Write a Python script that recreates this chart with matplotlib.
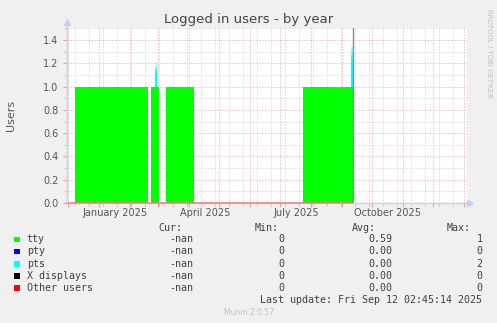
import matplotlib
matplotlib.use("Agg")
import matplotlib.pyplot as plt
import matplotlib.dates as mdates
from matplotlib.ticker import FixedLocator, MultipleLocator, FormatStrFormatter, NullFormatter
from matplotlib.patches import Rectangle
import pandas as pd

x_start = "2024-11-30"
x_end = "2026-01-04"
y_max = 1.5

# tty logins: value holds from each date to the next one
tty_dates = ["2024-11-30 00:00", "2024-12-08 00:00", "2025-02-19 00:00", "2025-02-22 00:00",
             "2025-03-02 00:00", "2025-03-09 00:00", "2025-04-06 00:00", "2025-07-24 00:00",
             "2025-09-12 02:45"]
tty_values = [0, 1, 0, 1, 0, 1, 0, 1, 1]

# pts spikes on top of tty
pts_dates = ["2025-02-27", "2025-09-11"]
pts_values = [0.2, 2]

last_update = "2025-09-12 02:45"

# quarter labels (rrdtool centres them in the month)
label_months = ["2025-01-01", "2025-04-01", "2025-07-01", "2025-10-01"]
label_texts = ["January 2025", "April 2025", "July 2025", "October 2025"]

# legend table
series_names = ["tty", "pty", "pts", "X displays", "Other users"]
series_colors = ["#00FF00", "#0000FF", "#00FFFF", "#000000", "#FF0000"]
cur_vals = ["-nan", "-nan", "-nan", "-nan", "-nan"]
min_vals = ["0", "0", "0", "0", "0"]
avg_vals = ["0.59", "0.00", "0.00", "0.00", "0.00"]
max_vals = ["1", "0", "2", "0", "0"]

W, H = 497, 323
fig = plt.figure(figsize=(W / 100, H / 100), dpi=100, facecolor="#F0F0F0")
ax = fig.add_axes([67 / W, 120 / H, 400 / W, 174.5 / H])
ax.set_facecolor("white")

t = pd.to_datetime(tty_dates, format="%Y-%m-%d %H:%M")
ax.fill_between(t, 0, tty_values, step="post", color="#00FF00", lw=0, zorder=3)

# pts spikes, solid near the tty top and fading upward like the rrdtool rendering
for d, v in zip(pd.to_datetime(pts_dates), pts_values):
    fade = min(v, 0.35)
    n = 10
    for i in range(n):
        y0 = 1 + fade * i / n
        y1 = 1 + fade * (i + 1) / n
        a = 1.0 if i < n * 0.55 else max(0.15, 1 - (i - n * 0.55) / (n * 0.5))
        ax.plot([d, d], [y0, y1], color="#00FFFF", lw=1.6, alpha=a, zorder=4,
                solid_capstyle="butt")

lu = pd.to_datetime(last_update)
ax.axvline(lu, color="#8a8a8a", lw=1.0, zorder=5)
# zero line where data exists
ax.plot([pd.to_datetime(x_start), lu], [0, 0], color="#F08080", lw=1.2, zorder=6,
        clip_on=False)

ax.set_xlim(pd.to_datetime(x_start), pd.to_datetime(x_end))
ax.set_ylim(0, y_max)

# grid
ax.xaxis.set_major_locator(mdates.MonthLocator())
ax.xaxis.set_major_formatter(NullFormatter())
minor_x = mdates.date2num(pd.date_range("2024-12-08", x_end, freq="14D"))
ax.xaxis.set_minor_locator(FixedLocator(minor_x))
ax.yaxis.set_major_locator(MultipleLocator(0.2))
ax.yaxis.set_minor_locator(MultipleLocator(0.1))
ax.yaxis.set_major_formatter(FormatStrFormatter("%.1f"))

ax.grid(which="minor", color="#CCCCCC", lw=0.72, ls=(0, (1, 2)), zorder=1)
ax.grid(which="major", color="#E8A0A0", lw=0.72, ls=(0, (1, 2)), zorder=2)
ax.set_axisbelow(True)

ax.tick_params(axis="x", which="major", length=3, width=0.8, color="#E8A0A0", direction="out")
ax.tick_params(axis="x", which="minor", length=2, width=0.8, color="#C8C8C8", direction="out")
ax.tick_params(axis="y", which="major", length=3, width=0.8, color="#E8A0A0", direction="out",
               labelsize=7, labelcolor="#555555", pad=3)
ax.tick_params(axis="y", which="minor", length=2, width=0.8, color="#C8C8C8", direction="out")

for s in ax.spines.values():
    s.set_visible(False)

# axes with arrows
axis_col = "#C8CDF4"
ax.plot([0, 0], [0, 1.02], transform=ax.transAxes, color=axis_col, lw=1, clip_on=False, zorder=7)
ax.plot([0], [1.035], transform=ax.transAxes, marker="^", ms=4, color=axis_col, mec=axis_col,
        clip_on=False, zorder=7)
ax.plot([0.72, 1.0], [0, 0], transform=ax.transAxes, color=axis_col, lw=1, clip_on=False, zorder=5)
ax.plot([1.008], [0], transform=ax.transAxes, marker=">", ms=4, color=axis_col, mec=axis_col,
        clip_on=False, zorder=7)

for m, txt in zip(pd.to_datetime(label_months), label_texts):
    ax.text(m + pd.Timedelta(days=16), -0.055, txt, transform=ax.get_xaxis_transform(),
            ha="center", va="center", fontsize=7, color="#555555")

fig.text(248.5 / W, 1 - 19.5 / H, "Logged in users - by year", ha="center", va="center",
         fontsize=9.5, color="#444444")
fig.text(11 / W, 1 - 115 / H, "Users", rotation=90, ha="center", va="center",
         fontsize=8, color="#555555")
fig.text(488.5 / W, 1 - 53.5 / H, "RRDTOOL / TOBI OETIKER", rotation=270, ha="center",
         va="center", fontsize=5, color="#C0C0C0")

# legend table
mono = dict(family="DejaVu Sans Mono", fontsize=7.2, color="#404040")
hy = 228.3
for x, txt in zip([158, 255, 352, 447], ["Cur:", "Min:", "Avg:", "Max:"]):
    fig.text(x / W, 1 - hy / H, txt, ha="left", va="center", **mono)

row_y = [239.5, 251.5, 263.7, 275.8, 287.8]
for y, name, col, c, mn, av, mx in zip(row_y, series_names, series_colors,
                                        cur_vals, min_vals, avg_vals, max_vals):
    fig.add_artist(Rectangle((14 / W, 1 - (y + 2.8) / H), 5.5 / W, 5.5 / H,
                             transform=fig.transFigure, color=col, lw=0))
    fig.text(26.7 / W, 1 - y / H, name, ha="left", va="center", **mono)
    fig.text(193.5 / W, 1 - y / H, c, ha="right", va="center", **mono)
    fig.text(284.5 / W, 1 - y / H, mn, ha="right", va="center", **mono)
    fig.text(392.8 / W, 1 - y / H, av, ha="right", va="center", **mono)
    fig.text(482.5 / W, 1 - y / H, mx, ha="right", va="center", **mono)

fig.text(482.5 / W, 1 - 299.8 / H, "Last update: Fri Sep 12 02:45:14 2025", ha="right",
         va="center", **mono)
fig.text(248.5 / W, 1 - 312.3 / H, "Munin 2.0.57", ha="center", va="center",
         fontsize=5.5, color="#C0C0C0")

fig.savefig("out.png", dpi=100, facecolor=fig.get_facecolor())
